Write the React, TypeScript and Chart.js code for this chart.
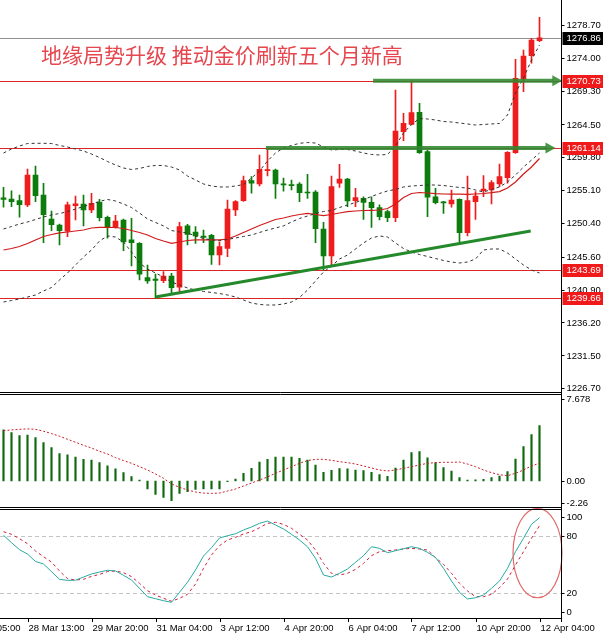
import React, { useEffect, useRef } from "react";
import Chart from "chart.js/auto";

// H4 candles
const opens = [
  1254.0, 1253.84, 1253.6, 1253.0, 1257.27, 1254.41, 1250.99, 1250.13, 1249.23, 1252.89,
  1253.13, 1252.27, 1253.37, 1251.23, 1249.8, 1250.84, 1248.0, 1247.51, 1242.6, 1242.4,
  1242.17, 1242.84, 1241.23, 1250.0, 1249.13, 1248.56, 1248.66, 1245.84, 1246.8, 1252.27,
  1253.6, 1256.46, 1255.99, 1257.89, 1257.99, 1256.0, 1255.85, 1255.99, 1254.8, 1254.84,
  1249.56, 1245.7, 1256.09, 1256.7, 1253.6, 1253.94, 1253.37, 1252.6, 1252.03, 1251.17,
  1263.46, 1264.51, 1266.23, 1260.6, 1254.17, 1253.4, 1253.13, 1253.8, 1249.03, 1253.46,
  1255.03, 1255.13, 1255.99, 1256.89, 1260.46, 1270.99, 1274.31, 1276.46,
];
const highs = [
  1255.51, 1255.0, 1254.41, 1258.13, 1258.56, 1256.09, 1252.13, 1250.27, 1253.41, 1254.27,
  1254.41, 1254.66, 1253.8, 1251.41, 1251.51, 1250.99, 1251.09, 1247.6, 1244.41, 1243.13,
  1243.46, 1243.23, 1250.51, 1250.23, 1249.89, 1249.41, 1248.8, 1247.74, 1253.7, 1253.6,
  1257.13, 1257.03, 1260.13, 1261.14, 1258.1, 1256.84, 1256.56, 1256.17, 1257.37, 1255.03,
  1250.51, 1257.13, 1258.8, 1256.8, 1255.37, 1254.17, 1254.17, 1253.0, 1252.27, 1269.41,
  1266.09, 1270.73, 1267.51, 1260.84, 1255.37, 1253.5, 1255.13, 1253.85, 1257.13, 1254.89,
  1257.17, 1256.46, 1258.84, 1260.6, 1273.8, 1275.13, 1276.8, 1279.8,
];
const lows = [
  1252.66, 1252.74, 1251.23, 1252.74, 1253.46, 1247.6, 1249.31, 1247.27, 1248.46, 1250.84,
  1249.99, 1251.89, 1250.7, 1248.23, 1249.66, 1246.46, 1244.27, 1242.27, 1241.8, 1239.66,
  1241.89, 1240.37, 1240.37, 1247.27, 1247.51, 1247.6, 1244.51, 1244.41, 1245.6, 1251.46,
  1253.51, 1254.66, 1255.7, 1257.13, 1253.94, 1254.95, 1255.13, 1253.46, 1253.94, 1247.6,
  1243.69, 1244.17, 1255.51, 1252.74, 1252.74, 1250.94, 1249.8, 1250.84, 1250.6, 1250.6,
  1262.17, 1264.41, 1260.37, 1251.31, 1253.13, 1251.8, 1252.66, 1247.6, 1248.56, 1250.94,
  1254.17, 1253.13, 1255.6, 1256.09, 1260.37, 1269.17, 1273.23, 1276.31,
];
const closes = [
  1253.8, 1253.46, 1253.03, 1257.27, 1254.31, 1251.6, 1250.17, 1249.31, 1253.0, 1253.17,
  1252.27, 1253.23, 1251.17, 1249.8, 1250.7, 1247.7, 1247.6, 1243.09, 1242.13, 1242.2,
  1242.84, 1241.17, 1249.89, 1248.8, 1248.56, 1248.37, 1245.84, 1247.03, 1252.41, 1253.46,
  1256.46, 1256.09, 1258.09, 1257.99, 1255.99, 1255.85, 1255.75, 1254.74, 1254.7, 1249.6,
  1245.7, 1255.6, 1256.7, 1253.56, 1254.03, 1253.37, 1252.6, 1251.31, 1251.17, 1263.56,
  1264.66, 1266.17, 1260.46, 1254.09, 1253.31, 1253.3, 1253.7, 1249.03, 1253.6, 1254.27,
  1255.27, 1256.17, 1257.03, 1260.51, 1271.09, 1274.27, 1276.56, 1276.86,
];

// Bollinger bands (dashed) and the red moving average
const bbUpper = [
  1260.41, 1260.99, 1261.41, 1261.77, 1261.8, 1261.8, 1261.77, 1261.49, 1261.27, 1260.99,
  1260.7, 1260.27, 1259.77, 1259.2, 1258.7, 1258.27, 1258.06, 1258.2, 1258.49, 1258.63,
  1258.63, 1258.41, 1257.99, 1257.13, 1256.56, 1255.99, 1255.7, 1255.56, 1255.56, 1255.7,
  1255.91, 1256.84, 1257.84, 1259.27, 1260.41, 1261.13, 1261.49, 1261.8, 1261.91, 1261.84,
  1261.27, 1260.84, 1260.91, 1260.91, 1260.7, 1260.41, 1260.2, 1260.13, 1260.2, 1261.41,
  1263.27, 1264.49, 1265.34, 1265.27, 1265.13, 1264.91, 1264.84, 1264.7, 1264.56, 1264.41,
  1264.49, 1264.56, 1264.63, 1265.84, 1268.99, 1271.13, 1273.7, 1275.84,
];
const bbMiddle = [
  1249.56, 1249.91, 1250.27, 1250.56, 1250.91, 1251.27, 1251.56, 1251.77, 1252.03, 1252.41,
  1252.77, 1253.13, 1253.49, 1253.77, 1253.56, 1253.13, 1252.63, 1251.84, 1250.99, 1250.49,
  1250.0, 1249.34, 1249.13, 1248.99, 1248.56, 1248.2, 1247.99, 1247.91, 1248.06, 1248.27,
  1248.49, 1248.7, 1249.06, 1249.41, 1249.7, 1250.0, 1250.56, 1251.06, 1251.41, 1251.77,
  1252.06, 1252.2, 1252.63, 1252.99, 1253.34, 1253.77, 1254.2, 1254.63, 1254.99, 1255.2,
  1255.56, 1255.7, 1255.77, 1255.84, 1255.84, 1255.77, 1255.63, 1255.49, 1255.41, 1255.13,
  1254.84, 1255.2, 1255.56, 1256.27, 1257.27, 1258.41, 1259.41, 1260.41,
];
const bbLower = [
  1239.13, 1239.34, 1239.56, 1239.84, 1240.13, 1240.7, 1241.2, 1242.27, 1243.27, 1244.41,
  1245.56, 1246.56, 1247.84, 1248.56, 1248.41, 1247.7, 1246.27, 1244.7, 1243.84, 1243.27,
  1242.7, 1241.99, 1241.56, 1241.13, 1240.84, 1240.63, 1240.49, 1240.34, 1240.13, 1239.84,
  1239.41, 1238.99, 1238.77, 1238.7, 1238.7, 1238.84, 1239.13, 1239.77, 1240.84, 1242.13,
  1243.41, 1244.27, 1245.27, 1245.84, 1246.7, 1247.56, 1248.27, 1248.56, 1248.41, 1247.56,
  1246.77, 1246.27, 1245.91, 1245.63, 1245.34, 1245.06, 1244.84, 1244.7, 1244.84, 1245.27,
  1246.56, 1246.7, 1246.7, 1246.13, 1245.27, 1244.41, 1243.7, 1243.27,
];
const maRed = [
  1246.56, 1246.77, 1247.06, 1247.49, 1247.99, 1248.49, 1248.77, 1248.99, 1249.13, 1249.27,
  1249.41, 1249.7, 1249.8, 1249.8, 1249.77, 1249.63, 1249.34, 1249.06, 1248.7, 1248.2,
  1247.84, 1247.51, 1247.7, 1247.91, 1247.99, 1247.99, 1247.99, 1247.99, 1248.13, 1248.56,
  1249.06, 1249.56, 1250.06, 1250.49, 1250.91, 1251.13, 1251.41, 1251.63, 1251.8, 1251.63,
  1251.46, 1251.63, 1251.84, 1252.03, 1252.13, 1252.2, 1252.23, 1252.27, 1252.49, 1253.13,
  1254.06, 1254.63, 1254.77, 1254.7, 1254.6, 1254.56, 1254.54, 1254.53, 1254.51, 1254.56,
  1254.63, 1254.74, 1254.89, 1255.41, 1256.27, 1257.41, 1258.41, 1259.63,
];

// MACD
const macdHist = [
  4.78, 4.53, 4.25, 4.31, 4.06, 3.59, 3.13, 2.56, 2.44, 2.25,
  2.03, 1.97, 1.72, 1.41, 1.13, 0.78, 0.41, 0.09, -0.75, -1.25,
  -1.53, -1.84, -1.16, -1.0, -0.78, -0.75, -0.75, -0.75, -0.06, 0.19,
  0.72, 1.19, 1.78, 2.03, 2.25, 2.25, 2.25, 2.13, 1.97, 1.5,
  0.81, 1.0, 1.16, 1.13, 1.03, 0.97, 0.81, 0.59, 0.44, 1.22,
  1.97, 2.66, 2.75, 2.16, 1.72, 1.25, 0.94, 0.31, 0.09, 0.12,
  0.16, 0.31, 0.47, 0.88, 2.06, 3.22, 4.34, 5.19,
];
const macdSignal = [
  4.72, 4.78, 4.84, 4.88, 4.84, 4.66, 4.44, 4.19, 3.91, 3.63,
  3.34, 3.09, 2.78, 2.53, 2.19, 1.91, 1.66, 1.34, 1.03, 0.66,
  0.25, -0.28, -0.59, -0.84, -1.03, -1.13, -1.16, -1.13, -0.94, -0.75,
  -0.47, -0.19, 0.09, 0.38, 0.72, 1.03, 1.34, 1.66, 1.91, 2.03,
  2.03, 1.94, 1.81, 1.72, 1.59, 1.41, 1.22, 1.03, 0.94, 1.03,
  1.19, 1.34, 1.5, 1.66, 1.72, 1.75, 1.75, 1.78, 1.59, 1.34,
  1.03, 0.78, 0.59, 0.5, 0.72, 1.03, 1.41, 1.66,
];

// Stochastic
const stochMain = [
  80.7, 73, 65.6, 61, 53.2, 50.5, 42.5, 34.4, 33.3, 33.5,
  36.8, 40, 42.1, 43.9, 43.2, 38.6, 33.7, 24.9, 16.1, 14,
  11.9, 10.2, 20.7, 31.3, 44.2, 58.9, 67.7, 77.9, 80.3, 82.4,
  86.3, 89.5, 93.3, 95.8, 91.6, 87.4, 81.8, 75.8, 68.7, 56.5,
  38.9, 36.8, 40.7, 45.3, 52.3, 59.3, 68.7, 67, 62.4, 64.5,
  66.6, 68.7, 67, 62.8, 57.5, 46, 32.6, 20.7, 13.7, 15,
  17.9, 24.9, 32.6, 46, 63.5, 77.6, 92.3, 99.3,
];
const stochSignal = [
  84.5, 81.8, 77.2, 71.9, 64.2, 58.2, 52.6, 43.2, 35.1, 33.7,
  34.4, 37.5, 39.6, 42.5, 43.2, 41.4, 37.2, 30.2, 22.4, 17.9,
  14.4, 11.3, 14.4, 18.6, 29.5, 46, 60, 69.8, 75.8, 78.6,
  82.1, 84.5, 88.7, 93.3, 94.4, 92.3, 88.1, 81.8, 75.8, 65.3,
  51.2, 40.7, 38.9, 40.7, 44.9, 51.2, 59.3, 63.5, 64.5, 65.3,
  66.3, 67, 66.3, 65.3, 57.2, 50.2, 40.7, 30.2, 22.1, 16.1,
  16.1, 18.6, 25.6, 34.7, 49.5, 63.5, 77.6, 90.8,
];

// axes and annotations
const priceTicks = [1278.7, 1274.0, 1269.3, 1264.5, 1259.8, 1255.1, 1250.4, 1245.6, 1240.9, 1236.2, 1231.5, 1226.7];
const macdTicks = [7.678, 0, -2.26];
const macdTickText = ["7.678", "0.00", "-2.26"];
const stochTicks = [100, 80, 20, 0];
const stochLevels = [80, 20];
const timeLabels = ["27 Mar 05:00", "28 Mar 13:00", "29 Mar 20:00", "31 Mar 04:00", "3 Apr 12:00", "4 Apr 20:00", "6 Apr 04:00", "7 Apr 12:00", "10 Apr 20:00", "12 Apr 04:00"];
const timeLabelBars = [-5, 3, 11, 19, 27, 35, 43, 51, 59, 67];
const levelPrices = [1270.73, 1261.14, 1243.69, 1239.66];
const bidPrice = 1276.86;
const arrowPrices = [1270.73, 1261.14];
const arrowFrom = [46.2, 32.8];
const arrowTo = [69.85, 69.0];
const trendBars = [19, 65.9];
const trendPrices = [1239.84, 1249.27];
const circleBar = 66.75;
const circleValue = 62;
const circleBarRadius = 3.06;
const circleValueRadius = 47;
const title = "地缘局势升级 推动金价刷新五个月新高";

const UP = "#ee1c1c";
const DOWN = "#0c7c0c";
const LABEL_FONT = "9.5px 'Liberation Sans', Arial, sans-serif";

const xy = (arr: number[]) => arr.map((v, i) => ({ x: i, y: v }));

function hLine(ctx: CanvasRenderingContext2D, x0: number, x1: number, y: number) {
  const py = Math.round(y) + 0.5;
  ctx.beginPath();
  ctx.moveTo(x0, py);
  ctx.lineTo(x1, py);
  ctx.stroke();
}

const overlayPlugin = {
  id: "mtOverlay",
  beforeDatasetsDraw(chart: any) {
    const { ctx, chartArea: area, scales } = chart;
    ctx.save();
    ctx.lineWidth = 1;
    ctx.strokeStyle = "#c4c4c4";
    ctx.setLineDash([4, 3]);
    stochLevels.forEach((lv) => hLine(ctx, area.left, area.right, scales.stoch.getPixelForValue(lv)));
    ctx.setLineDash([]);
    ctx.strokeStyle = "#8f8f8f";
    hLine(ctx, area.left, area.right, scales.y.getPixelForValue(bidPrice));
    ctx.strokeStyle = "#dd2424";
    levelPrices.forEach((p) => hLine(ctx, area.left, area.right, scales.y.getPixelForValue(p)));
    ctx.restore();
  },
  afterDatasetsDraw(chart: any) {
    const { ctx, scales } = chart;
    const { x, y, stoch } = scales;
    ctx.save();
    // trend line
    ctx.strokeStyle = "#23892a";
    ctx.lineWidth = 3;
    ctx.beginPath();
    ctx.moveTo(x.getPixelForValue(trendBars[0]), y.getPixelForValue(trendPrices[0]));
    ctx.lineTo(x.getPixelForValue(trendBars[1]), y.getPixelForValue(trendPrices[1]));
    ctx.stroke();
    // arrows
    const arrowColor = "rgba(48,136,48,0.88)";
    arrowPrices.forEach((p, k) => {
      const py = y.getPixelForValue(p);
      const x0 = x.getPixelForValue(arrowFrom[k]);
      const x1 = x.getPixelForValue(arrowTo[k]);
      const head = 10;
      ctx.strokeStyle = arrowColor;
      ctx.lineWidth = 4;
      ctx.beginPath();
      ctx.moveTo(x0, py);
      ctx.lineTo(x1 - head + 1, py);
      ctx.stroke();
      ctx.fillStyle = arrowColor;
      ctx.beginPath();
      ctx.moveTo(x1, py);
      ctx.lineTo(x1 - head, py - 5.5);
      ctx.lineTo(x1 - head, py + 5.5);
      ctx.closePath();
      ctx.fill();
    });
    // ellipse on stochastic
    const cx = x.getPixelForValue(circleBar);
    const cy = stoch.getPixelForValue(circleValue);
    const rx = Math.abs(x.getPixelForValue(circleBar + circleBarRadius) - cx);
    const ry = Math.abs(stoch.getPixelForValue(circleValue + circleValueRadius) - cy);
    ctx.strokeStyle = "#e06a6a";
    ctx.lineWidth = 1.2;
    ctx.beginPath();
    ctx.ellipse(cx, cy, rx, ry, 0, 0, Math.PI * 2);
    ctx.stroke();
    ctx.restore();
  },
  afterDraw(chart: any) {
    const { ctx, chartArea: area, scales, width } = chart;
    const { x, y, macd, stoch } = scales;
    ctx.save();

    // title
    ctx.font = "21px 'Noto Sans CJK SC', sans-serif";
    ctx.fillStyle = "#e6474f";
    ctx.textBaseline = "middle";
    ctx.textAlign = "left";
    ctx.fillText(title, 41, 55);

    // frames
    ctx.strokeStyle = "#000";
    ctx.lineWidth = 1;
    const ax = Math.round(area.right) - 0.5;
    ctx.beginPath();
    ctx.moveTo(ax, 0);
    ctx.lineTo(ax, area.bottom + 4);
    ctx.stroke();
    const b1 = Math.round(y.bottom);
    const b2 = Math.round(macd.bottom);
    [b1 - 1, b1 + 1, b2 - 1, b2 + 1, Math.round(area.bottom)].forEach((yy) =>
      hLine(ctx, 0, ax, yy)
    );

    // right labels
    ctx.font = LABEL_FONT;
    ctx.fillStyle = "#000";
    const drawLabels = (scale: any, values: number[], texts: string[]) => {
      values.forEach((v, k) => {
        let py = scale.getPixelForValue(v);
        py = Math.min(Math.max(py, scale.top + 6), scale.bottom - 5);
        ctx.beginPath();
        ctx.moveTo(ax, Math.round(py) + 0.5);
        ctx.lineTo(ax + 3, Math.round(py) + 0.5);
        ctx.stroke();
        ctx.fillText(texts[k], ax + 5, py + 0.5);
      });
    };
    drawLabels(y, priceTicks, priceTicks.map((v) => v.toFixed(2)));
    drawLabels(macd, macdTicks, macdTickText);
    drawLabels(stoch, stochTicks, stochTicks.map((v) => String(v)));

    // price boxes
    const box = (p: number, bg: string) => {
      const py = y.getPixelForValue(p);
      ctx.fillStyle = bg;
      ctx.fillRect(ax + 1, Math.round(py) - 6, width - ax, 13);
      ctx.fillStyle = "#fff";
      ctx.fillText(p.toFixed(2), ax + 5, py + 0.5);
    };
    box(bidPrice, "#000");
    levelPrices.forEach((p) => box(p, "#f01a1a"));

    // time labels
    ctx.fillStyle = "#000";
    ctx.textAlign = "left";
    timeLabelBars.forEach((bar, k) => {
      const tx = Math.round(x.getPixelForValue(bar)) + 0.5;
      ctx.beginPath();
      ctx.moveTo(tx, area.bottom);
      ctx.lineTo(tx, area.bottom + 4);
      ctx.stroke();
      ctx.fillText(timeLabels[k], tx, area.bottom + 10, 56);
    });
    ctx.restore();
  },
};

const hiddenY = {
  type: "linear" as const,
  position: "right" as const,
  stack: "panes",
  grid: { display: false },
  border: { display: false },
  ticks: { display: false },
  afterFit: (s: any) => {
    s.width = 0;
  },
};

export default function App() {
  const canvasRef = useRef<HTMLCanvasElement>(null);

  useEffect(() => {
    document.body.style.margin = "0";
    if (!canvasRef.current) return;
    const colors = opens.map((o, i) => (closes[i] >= o ? UP : DOWN));
    const line = (data: number[], axis: string, color: string, dash: number[], w = 1) => ({
      type: "line" as const,
      data: xy(data),
      yAxisID: axis,
      borderColor: color,
      borderWidth: w,
      borderDash: dash,
      pointRadius: 0,
      tension: 0,
      fill: false,
      order: 1,
    });

    const chart = new Chart(canvasRef.current, {
      type: "bar",
      data: {
        datasets: [
          {
            type: "bar",
            data: opens.map((_, i) => ({ x: i, y: [lows[i], highs[i]] })) as any,
            yAxisID: "y",
            backgroundColor: colors,
            barThickness: 1,
            grouped: false,
            order: 3,
          },
          {
            type: "bar",
            data: opens.map((o, i) => ({ x: i, y: [o, closes[i]] })) as any,
            yAxisID: "y",
            backgroundColor: colors,
            barThickness: 5,
            minBarLength: 1,
            grouped: false,
            order: 2,
          },
          line(bbUpper, "y", "#333", [3, 3]),
          line(bbMiddle, "y", "#333", [3, 3]),
          line(bbLower, "y", "#333", [3, 3]),
          line(maRed, "y", "#d11b1b", [], 1.2),
          {
            type: "bar",
            data: xy(macdHist) as any,
            yAxisID: "macd",
            backgroundColor: "#0f6a0f",
            barThickness: 1.5,
            grouped: false,
            order: 2,
          },
          line(macdSignal, "macd", "#c81e2a", [2, 2]),
          line(stochMain, "stoch", "#26aaa2", []),
          line(stochSignal, "stoch", "#d0203a", [3, 3]),
        ] as any,
      },
      options: {
        responsive: true,
        maintainAspectRatio: false,
        animation: false,
        events: [],
        layout: { padding: { left: 0, right: 41, top: 0, bottom: 18 } },
        plugins: { legend: { display: false }, tooltip: { enabled: false } },
        scales: {
          x: { type: "linear", min: -3.5 / 8, max: (562 - 3.5) / 8, offset: false, display: false },
          y: { ...hiddenY, weight: 1, stackWeight: 392.5, min: 1226.2, max: 1282.27 },
          macd: { ...hiddenY, weight: 2, stackWeight: 115, min: -2.481, max: 8.287 },
          stoch: { ...hiddenY, weight: 3, stackWeight: 110.5, min: -6.32, max: 110 },
        } as any,
      },
      plugins: [overlayPlugin],
    });

    return () => chart.destroy();
  }, []);

  return (
    <div style={{ position: "relative", width: 603, height: 636, background: "#fff" }}>
      <canvas ref={canvasRef} />
    </div>
  );
}
